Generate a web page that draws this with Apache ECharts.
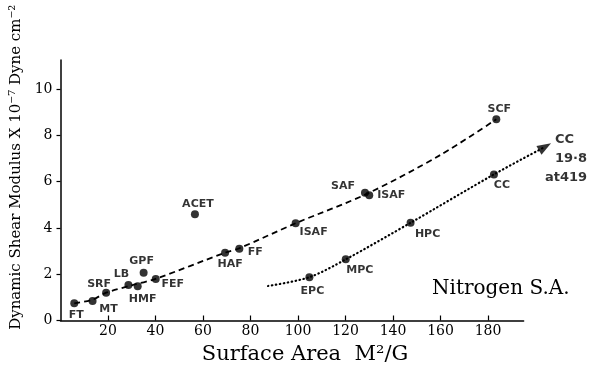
<!DOCTYPE html>
<html>
<head>
<meta charset="utf-8">
<script src="https://cdn.jsdelivr.net/npm/echarts@6/dist/echarts.min.js"></script>
<style>
html,body{margin:0;padding:0;background:#fff;}
#chart{width:592px;height:369px;}
</style>
</head>
<body>
<div id="chart"></div>
<script>
// ---- data ----
const pointNames = ['FT','MT','SRF','LB','HMF','GPF','FEF','ACET','HAF','FF','ISAF','SAF','ISAF','SCF','EPC','MPC','HPC','CC'];
const pointX = [5.8, 13.5, 19.2, 28.6, 32.5, 35.0, 40.1, 56.6, 69.3, 75.3, 99.0, 128.2, 130.0, 183.5, 104.8, 120.1, 147.4, 182.5];
const pointY = [0.74, 0.84, 1.2, 1.53, 1.48, 2.06, 1.79, 4.59, 2.93, 3.10, 4.2, 5.52, 5.41, 8.69, 1.87, 2.64, 4.22, 6.31];

const dashedX = [5.8, 13.5, 19.2, 30, 40.1, 69.3, 75.3, 99.0, 129.0, 160, 183.5];
const dashedY = [0.74, 0.9, 1.2, 1.52, 1.8, 2.93, 3.12, 4.2, 5.47, 7.15, 8.69];

const dottedX = [87.4, 104.8, 120.1, 147.4, 182.5, 204.0];
const dottedY = [1.49, 1.87, 2.64, 4.22, 6.31, 7.5];

const arrowPoint = [204.0, 7.5];
const arrowText = ['CC', '19·8', 'at419'];

const xTicks = [0, 20, 40, 60, 80, 100, 120, 140, 160, 180];
const yTicks = [0, 2, 4, 6, 8, 10];

// ---- label placement (style, not data) ----
const labelOffsets = [
  [2,12],[16,8],[-7,-9],[-7,-11],[5,13],[-2,-12],[17,5],[3,-10],[5,11],[16,3],
  [18,9],[-22,-7],[22,0],[3,-10],[3,14],[14,11],[17,11],[8,11]
];

const font = 'DejaVu Sans';
const serif = 'DejaVu Serif';

const points = pointNames.map((n, i) => ({
  name: n,
  value: [pointX[i], pointY[i]],
  label: { offset: labelOffsets[i] }
}));

const yAxisBase = {
  type: 'value', min: 0, max: 11.25, interval: 2, splitLine: { show: false }
};

const chart = echarts.init(document.getElementById('chart'), null, {renderer: 'canvas'});
chart.setOption({
  animation: false,
  backgroundColor: '#fff',
  grid: [
    { left: 60.5, right: 68.375, top: 60, bottom: 48.5, containLabel: false, outerBoundsMode: 'none' },
    { left: 60.5, right: 44.625, top: 60, bottom: 48.5, containLabel: false, outerBoundsMode: 'none' }
  ],
  xAxis: [
    {
      gridIndex: 0,
      type: 'value', min: 0, max: 195, interval: 20,
      name: 'Surface Area  M²/G',
      nameLocation: 'middle', nameGap: 24,
      nameTextStyle: { fontFamily: serif, fontSize: 21, color: '#000', padding: [0, 0, 0, 26] },
      axisLine: { lineStyle: { color: '#000', width: 1.5 } },
      axisTick: { inside: true, length: 5, lineStyle: { color: '#000', width: 1.2 } },
      axisLabel: {
        fontFamily: serif, fontSize: 14, color: '#000', margin: 4,
        showMinLabel: false, showMaxLabel: false,
        formatter: v => xTicks.indexOf(v) >= 0 ? String(v) : ''
      },
      splitLine: { show: false }
    },
    {
      gridIndex: 1, type: 'value', min: 0, max: 205, show: false, splitLine: { show: false }
    }
  ],
  yAxis: [
    Object.assign({}, yAxisBase, {
      gridIndex: 0,
      name: 'Dynamic Shear Modulus X 10⁻⁷ Dyne cm⁻²',
      nameLocation: 'middle', nameGap: 32, nameRotate: 90,
      nameTextStyle: { fontFamily: serif, fontSize: 15, color: '#000', padding: [0, 0, 0, 46] },
      axisLine: { lineStyle: { color: '#000', width: 1.5 } },
      axisTick: { length: 4, lineStyle: { color: '#000', width: 1.2 } },
      axisLabel: {
        fontFamily: serif, fontSize: 14, color: '#000', margin: 8,
        showMaxLabel: false,
        formatter: v => yTicks.indexOf(v) >= 0 ? String(v) : ''
      }
    }),
    Object.assign({}, yAxisBase, { gridIndex: 1, show: false })
  ],
  series: [
    {
      type: 'line', xAxisIndex: 0, yAxisIndex: 0,
      smooth: 0.3, symbol: 'none',
      data: dashedX.map((x, i) => [x, dashedY[i]]),
      lineStyle: { color: '#000', width: 1.8, type: [6, 4] }
    },
    {
      type: 'line', xAxisIndex: 1, yAxisIndex: 1,
      smooth: 0.3, symbol: 'none',
      data: dottedX.map((x, i) => [x, dottedY[i]]),
      lineStyle: { color: '#000', width: 2.2, type: [0.5, 3.5], cap: 'round' }
    },
    {
      type: 'scatter', xAxisIndex: 0, yAxisIndex: 0,
      symbol: 'circle', symbolSize: 8, clip: false,
      itemStyle: { color: '#000' },
      data: points,
      label: {
        show: true, position: 'inside', formatter: p => p.name,
        fontFamily: font, fontWeight: 'bold', fontSize: 11, color: '#000',
        align: 'center', verticalAlign: 'middle'
      }
    },
    {
      type: 'scatter', xAxisIndex: 1, yAxisIndex: 1,
      symbol: 'triangle', symbolSize: [10, 14], symbolRotate: -59.5, clip: false,
      itemStyle: { color: '#000' },
      data: [{ value: arrowPoint }],
      label: {
        show: true, position: 'inside', offset: [0, -17],
        align: 'left', verticalAlign: 'top',
        formatter: '{a|' + arrowText[0] + '}\n{a|' + arrowText[1] + '}\n{b|' + arrowText[2] + '}',
        rich: {
          a: { fontFamily: font, fontWeight: 'bold', fontSize: 13, color: '#000', lineHeight: 19, padding: [0, 0, 0, 10] },
          b: { fontFamily: font, fontWeight: 'bold', fontSize: 13, color: '#000', lineHeight: 19 }
        }
      }
    }
  ],
  graphic: [
    {
      type: 'text', left: 432, top: 279,
      style: { text: 'Nitrogen S.A.', fontFamily: serif, fontSize: 20, fill: '#000' }
    }
  ]
});
</script>
</body>
</html>
